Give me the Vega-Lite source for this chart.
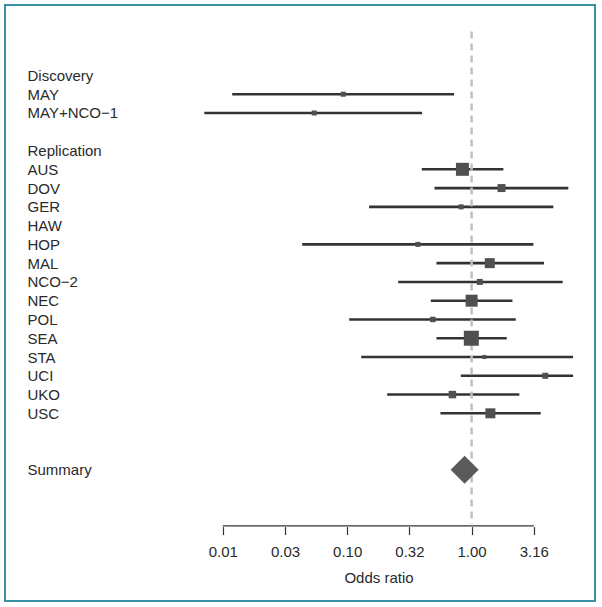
{
  "$schema": "https://vega.github.io/schema/vega-lite/v6.json",
  "width": 590,
  "height": 596,
  "autosize": {"type": "none"},
  "padding": {"left": 5, "top": 5, "right": 7, "bottom": 6},
  "background": "white",
  "config": {
    "font": "Liberation Sans",
    "view": {"stroke": "#3a8fa0", "strokeWidth": 2},
    "axis": {"grid": false}
  },
  "datasets": {
    "studies": [
      {"study": "MAY", "or": 0.0929, "lo": 0.0119, "hi": 0.723, "w": 25},
      {"study": "MAY+NCO−1", "or": 0.0543, "lo": 0.0071, "hi": 0.400, "w": 25},
      {"study": "AUS", "or": 0.844, "lo": 0.398, "hi": 1.80, "w": 169},
      {"study": "DOV", "or": 1.74, "lo": 0.503, "hi": 5.99, "w": 64},
      {"study": "GER", "or": 0.823, "lo": 0.150, "hi": 4.54, "w": 25},
      {"study": "HOP", "or": 0.370, "lo": 0.0435, "hi": 3.14, "w": 25},
      {"study": "MAL", "or": 1.40, "lo": 0.522, "hi": 3.82, "w": 100},
      {"study": "NCO−2", "or": 1.164, "lo": 0.257, "hi": 5.40, "w": 36},
      {"study": "NEC", "or": 1.00, "lo": 0.470, "hi": 2.13, "w": 144},
      {"study": "POL", "or": 0.488, "lo": 0.1038, "hi": 2.265, "w": 30},
      {"study": "SEA", "or": 0.995, "lo": 0.522, "hi": 1.917, "w": 225},
      {"study": "STA", "or": 1.267, "lo": 0.1296, "hi": 6.54, "w": 16},
      {"study": "UCI", "or": 3.91, "lo": 0.819, "hi": 6.54, "w": 36},
      {"study": "UKO", "or": 0.701, "lo": 0.2096, "hi": 2.42, "w": 56},
      {"study": "USC", "or": 1.416, "lo": 0.5615, "hi": 3.595, "w": 100}
    ],
    "pooled": [
      {"study": "Summary", "or": 0.879, "lo": 0.678, "hi": 1.138}
    ],
    "reference": [
      {"null_or": 1, "axis_from": 0.01, "axis_to": 3.16227766}
    ]
  },
  "layer": [
    {
      "data": {"name": "studies"},
      "mark": {"type": "rule", "color": "#333333", "strokeWidth": 2.6},
      "encoding": {
        "x": {"field": "lo", "type": "quantitative", "scale": {"type": "log", "domain": [0.0001775, 9.817], "nice": false},
          "axis": {"orient": "bottom", "offset": -74.4, "domain": false, "values": [0.01, 0.0316227766, 0.1, 0.316227766, 1, 3.16227766], "format": ".2f", "tickSize": 8, "tickColor": "#333333", "tickWidth": 1.2, "labelFontSize": 15, "labelColor": "#2a2a2a", "labelPadding": 10, "labelFlush": false, "labelOverlap": false, "title": "Odds ratio", "titleFontSize": 15, "titleFontWeight": "normal", "titleColor": "#2a2a2a", "titlePadding": 11, "titleX": 373.5}},
        "x2": {"field": "hi"},
        "y": {"field": "study", "type": "ordinal", "scale": {"type": "point", "domain": ["_m3","_m2","_m1","Discovery","MAY","MAY+NCO−1","_g1","Replication","AUS","DOV","GER","HAW","HOP","MAL","NCO−2","NEC","POL","SEA","STA","UCI","UKO","USC","_g2","_g3","Summary","_b1","_b2","_b3","_b4","_b5","_b6"], "padding": 0.876, "align": 0.43},
          "axis": {"orient": "left", "offset": -22, "domain": false, "ticks": false, "labelPadding": 0, "labelAlign": "left", "labelFontSize": 15, "labelColor": "#2a2a2a", "labelExpr": "indexof(datum.value, '_') == 0 ? '' : datum.value", "title": null}}
      }
    },
    {
      "data": {"name": "reference"},
      "mark": {"type": "rule", "color": "#c0c0c0", "strokeWidth": 2.5, "strokeDash": [7, 5], "yOffset": -6.5, "y2Offset": -2},
      "encoding": {
        "x": {"field": "null_or", "type": "quantitative", "title": "Odds ratio"},
        "y": {"datum": "_m2", "type": "ordinal"},
        "y2": {"datum": "_b3"}
      }
    },
    {
      "data": {"name": "reference"},
      "mark": {"type": "rule", "color": "#333333", "strokeWidth": 1.2},
      "encoding": {
        "x": {"field": "axis_from", "type": "quantitative", "title": "Odds ratio"},
        "x2": {"field": "axis_to"},
        "y": {"datum": "_b3", "type": "ordinal"}
      }
    },
    {
      "data": {"name": "studies"},
      "mark": {"type": "point", "shape": "square", "filled": true, "color": "#505050", "opacity": 1},
      "encoding": {
        "x": {"field": "or", "type": "quantitative", "title": "Odds ratio"},
        "y": {"field": "study", "type": "ordinal"},
        "size": {"field": "w", "type": "quantitative", "scale": {"type": "linear", "domain": [0, 225], "range": [0, 225], "zero": true}, "legend": null}
      }
    },
    {
      "data": {"name": "pooled"},
      "mark": {"type": "point", "shape": "diamond", "filled": true, "color": "#5a5a5a", "opacity": 1, "size": 784},
      "encoding": {
        "x": {"field": "or", "type": "quantitative", "title": "Odds ratio"},
        "y": {"field": "study", "type": "ordinal"}
      }
    }
  ]
}
